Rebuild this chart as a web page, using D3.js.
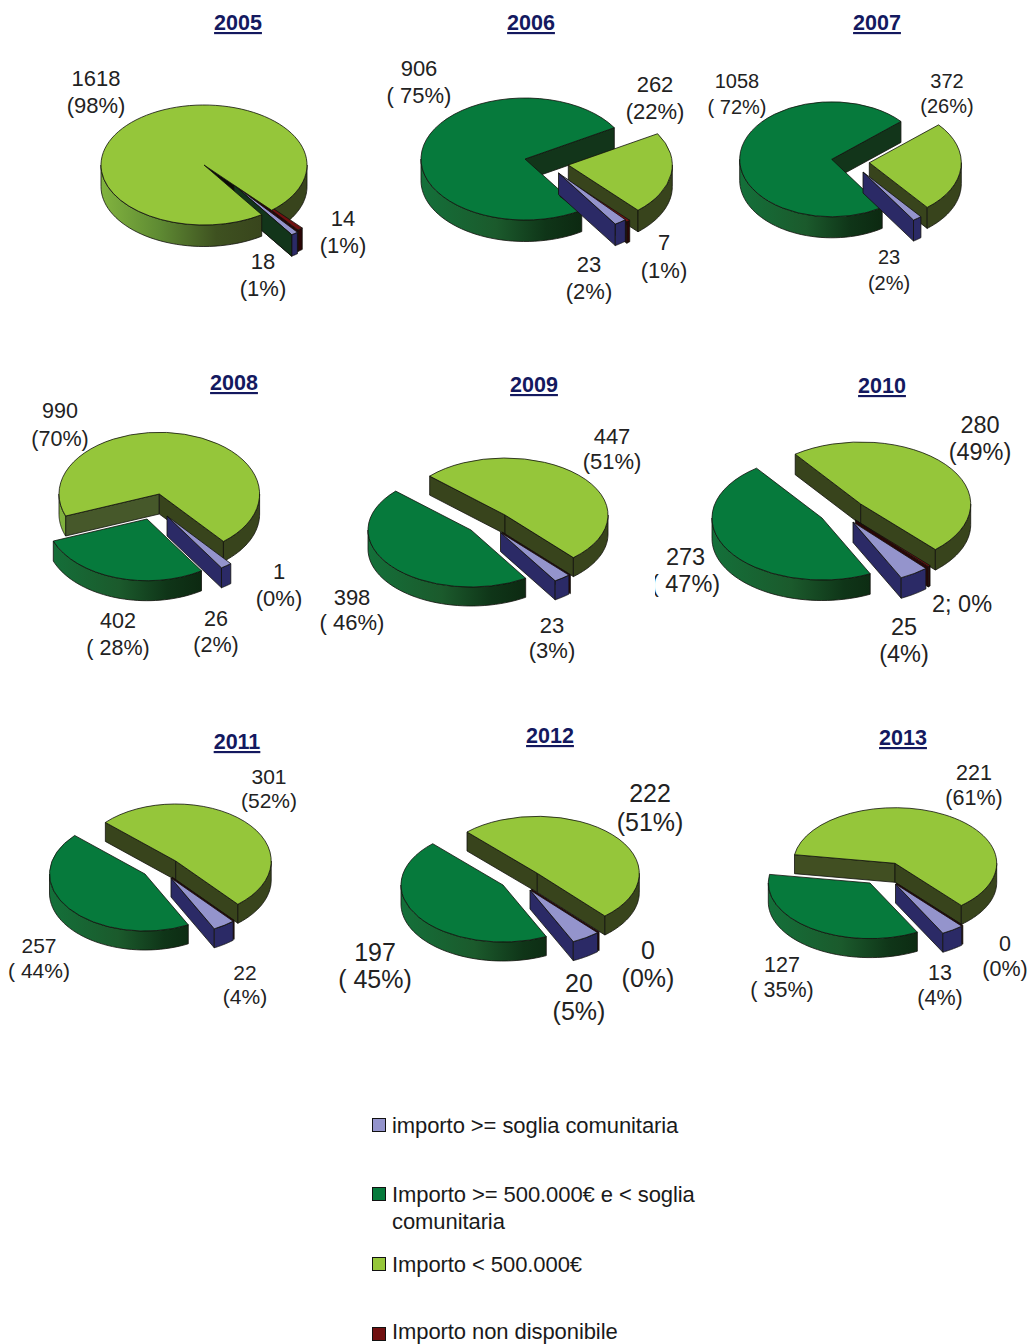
<!DOCTYPE html>
<html><head><meta charset="utf-8">
<style>html,body{margin:0;padding:0;background:#fff}svg{display:block}text{font-family:"Liberation Sans",Arial,sans-serif}</style>
<script src="https://d3js.org/d3.v7.min.js"></script>
</head><body><svg id="c" width="1032" height="1344"></svg>
<script>
// ---- data ----
const years      = [2005, 2006, 2007, 2008, 2009, 2010, 2011, 2012, 2013];
const sogliaComunitaria = [18, 23, 23, 26, 23, 25, 22, 20, 13];      // importo >= soglia comunitaria
const sopra500k  = [0, 906, 1058, 402, 398, 273, 257, 197, 127];     // >= 500.000 e < soglia
const sotto500k  = [1618, 262, 372, 990, 447, 280, 301, 222, 221];   // < 500.000
const nonDisp    = [14, 7, 0, 1, 0, 2, 0, 0, 0];                     // non disponibile
const seriesKeys = ["lav", "green", "lime", "maroon"];
const legendLabels = [["importo >= soglia comunitaria"], ["Importo >= 500.000€ e < soglia", "comunitaria"], ["Importo < 500.000€"], ["Importo non disponibile"]];
const valueLabels = [
  [["1618","(98%)"],["14","(1%)"],["18","(1%)"]],
  [["906","( 75%)"],["262","(22%)"],["23","(2%)"],["7","(1%)"]],
  [["1058","( 72%)"],["372","(26%)"],["23","(2%)"]],
  [["990","(70%)"],["402","( 28%)"],["26","(2%)"],["1","(0%)"]],
  [["447","(51%)"],["398","( 46%)"],["23","(3%)"]],
  [["280","(49%)"],["273","( 47%)"],["25","(4%)"],["2; 0%"]],
  [["301","(52%)"],["257","( 44%)"],["22","(4%)"]],
  [["222","(51%)"],["197","( 45%)"],["20","(5%)"],["0","(0%)"]],
  [["221","(61%)"],["127","( 35%)"],["13","(4%)"],["0","(0%)"]]
];
// ---- layout ----
const colors = {
  top:{lav:"#9494cc",green:"#067a3c",lime:"#95c63a",maroon:"#701010"},
  wall:{lav:"#2b2a66",green:"#12351a",lime:"#38441c",maroon:"#2a0606"}
};
const ramps = {
  lime:[[0,"#82b43f"],[.35,"#5f8b33"],[.7,"#3e5120"],[1,"#38441c"]],
  green:[[0,"#14703a"],[.45,"#1b5a2c"],[.75,"#0f3518"],[1,"#0c2710"]],
  lav:[[0,"#2b2a66"],[1,"#2b2a66"]],
  maroon:[[0,"#2a0606"],[1,"#2a0606"]]
};
const rx = [103,104,92,100.3,103,110,95.5,102,101.7];
const ry = [60,61,57.5,61.7,57,62,57,57,55.6];
const depth = [21.5,21.5,21,20,19,20.5,19,19,19];
const startDeg = [142,140,141,140.5,138.4,138.5,139.4,138.5,139.3];
const origins = [ // origin of each slice [lav, green, lime, maroon]
  {lav:[234,185],green:[234,185],lime:[204,165],maroon:[234.6,182.7]},
  {lav:[558.5,173],green:[525,159],lime:[568.3,165],maroon:[560,175]},
  {lav:[863,172],green:[831.7,159.3],lime:[869.3,162.7],maroon:null},
  {lav:[167,516],green:[147,519],lime:[159.3,494],maroon:null},
  {lav:[500.5,532.5],green:[471,530],lime:[505,515],maroon:[502,532]},
  {lav:[853,522],green:[822,518],lime:[860.7,504],maroon:[855.4,520]},
  {lav:[171,878],green:[145,874],lime:[175.7,861],maroon:[172,877]},
  {lav:[530,890],green:[503,885],lime:[537.3,873.3],maroon:[531.5,889]},
  {lav:[895.5,884],green:[870,883],lime:[895,863.3],maroon:[896.5,883]}
];
const titlePos = [[238,30],[531,30],[877,30],[234,390],[534,392],[882,393],[237,749],[550,743],[903,745]];
const labelPos = [ // [centre x, first baseline, second baseline, font size]
  [[96,86,113,22],[343,226,253,22],[263,269,296,22]],
  [[419,76,103,22],[655,92,119,22],[589,272,299,22],[664,250,278,22]],
  [[737,88,114,20],[947,88,113,20],[889,264,290,20]],
  [[60,418,446,21.5],[118,628,655,21.5],[216,626,652,21.5],[279,579,606,22]],
  [[612,444,469,22],[352,605,630,22],[552,633,658,22]],
  [[980,433,460,23.5],[685.5,565,592,23.5],[904,635,662,23.5],[962,612,0,23.5]],
  [[269,784,808,21],[39,953,978,21],[245,980,1004,21]],
  [[650,802,831,25],[375,961,988,25],[579,992,1020,25],[648,959,987,25]],
  [[974,780,805,21.5],[782,972,997,21.5],[940,980,1005,21.5],[1005,951,976,21.5]]
];
const legendRows = [[1118,[1133]],[1187,[1202,1229]],[1257,[1272]],[1327,[1339]]];
const legendColors = ["#9494cc","#067a3c","#95c63a","#701010"];
const labelColor = "#222";
const edge = "#12120c";

const svg = d3.select("#c");
const defs = svg.append("defs");
const rad = d => d*Math.PI/180;
const pie = d3.pie().sort(null);
const line = d3.line();

years.forEach((yr,i)=>{
  const vals = [sogliaComunitaria[i],sopra500k[i],sotto500k[i],nonDisp[i]];
  const a0 = rad(startDeg[i]);
  const arcs = pie.startAngle(a0).endAngle(a0+2*Math.PI)(vals).map((a,k)=>({...a,key:seriesKeys[k],o:origins[i][seriesKeys[k]]}));
  const R=rx[i], S=ry[i], D=depth[i];
  const pt=(o,t,r=1,dy=0)=>[o[0]+R*r*Math.sin(t), o[1]-S*r*Math.cos(t)+dy];
  const arc=d3.arc().innerRadius(0).outerRadius(R);
  const g=svg.append("g").attr("class","pie");
  const drawn=arcs.filter(a=>a.o).map(a=>{
    const mid=(a.startAngle+a.endAngle)/2;
    return {...a,mid,order:a.o[1]-0.66*S*Math.cos(mid)};
  });
  const lavOrder=drawn.find(a=>a.key==="lav").order;
  drawn.forEach(a=>{
    if(a.key==="maroon") a.order=lavOrder-0.01;
    if(a.key==="green"&&a.endAngle===a.startAngle) a.order=lavOrder+0.01;
  });
  drawn.sort((p,q)=>p.order-q.order);
  drawn.forEach(a=>{
    const lg=defs.append("linearGradient").attr("id",`g${yr}${a.key}`).attr("gradientUnits","userSpaceOnUse")
      .attr("x1",a.o[0]-R).attr("x2",a.o[0]+0.6*R).attr("y1",0).attr("y2",0);
    ramps[a.key].forEach(s=>lg.append("stop").attr("offset",s[0]).attr("stop-color",s[1]));
  });

  const drawWalls=a=>{
    const wall=(t)=>{
      const sd=((t*180/Math.PI)%360+360)%360;
      const major=a.endAngle-a.startAngle>rad(300);
      const fill=major?"#0c0c06":(a.key==="lime"&&sd>235&&sd<265)?"#46582a":(a.key==="lime"&&sd>=265&&sd<290)?"#414f22":colors.wall[a.key];
      g.append("path").attr("d",line([a.o,pt(a.o,t),pt(a.o,t,1,D),[a.o[0],a.o[1]+D]])+"Z")
        .attr("fill",fill).attr("stroke",edge).attr("stroke-width",.8);
    };
    if(Math.sin(a.startAngle)<0) wall(a.startAngle);
    if(Math.sin(a.endAngle)>0) wall(a.endAngle);
  };
  const drawRim=(a,k)=>{
    const lo=Math.max(a.startAngle,rad(90+360*k)), hi=Math.min(a.endAngle,rad(270+360*k));
    if(hi<=lo) return;
    const ts=d3.range(0,41).map(j=>lo+(hi-lo)*j/40);
    const poly=[...ts.map(t=>pt(a.o,t)),...ts.slice().reverse().map(t=>pt(a.o,t,1,D))];
    g.append("path").attr("d",line(poly)+"Z").attr("fill",`url(#g${yr}${a.key})`).attr("stroke",edge).attr("stroke-width",.8);
  };
  const drawTop=a=>{
    if(a.endAngle>a.startAngle){
      g.append("path").attr("d",arc({startAngle:a.startAngle,endAngle:a.endAngle}))
        .attr("transform",`translate(${a.o[0]},${a.o[1]}) scale(1,${S/R})`)
        .attr("fill",colors.top[a.key]).attr("stroke",edge).attr("stroke-width",.8).attr("vector-effect","non-scaling-stroke");
    }
  };
  // a slice that wraps nearly the whole disc: its gap wall and right rim go behind the thin
  // exploded slices, its left rim and top go in front of them
  const isMajor=a=>a.endAngle-a.startAngle>rad(300);
  drawn.filter(isMajor).forEach(a=>{drawWalls(a);drawRim(a,1);});
  drawn.filter(a=>!isMajor(a)).forEach(a=>{drawWalls(a);drawRim(a,0);drawRim(a,1);drawTop(a);});
  drawn.filter(isMajor).forEach(a=>{drawRim(a,0);drawTop(a);});

  // title
  svg.append("text").attr("x",titlePos[i][0]).attr("y",titlePos[i][1]).attr("text-anchor","middle")
    .attr("font-size",21.5).attr("font-weight","bold").attr("fill","#14195f").attr("text-decoration","underline").text(yr);
  // value labels
  valueLabels[i].forEach((lines,k)=>{
    const p=labelPos[i][k];
    lines.forEach((s,j)=>svg.append("text").attr("x",p[0]).attr("y",p[1+j]).attr("text-anchor","middle")
      .attr("font-size",p[3]).attr("fill",labelColor).text(s));
  });
});
// the reference cuts off the bracket of the 2010 "47%" label
svg.append("rect").attr("x",648).attr("y",572).attr("width",7).attr("height",28).attr("fill","#fff");
// legend
legendLabels.forEach((lines,i)=>{
  svg.append("rect").attr("x",372.5).attr("y",legendRows[i][0]+.5).attr("width",13).attr("height",13)
    .attr("fill",legendColors[i]).attr("stroke","#111").attr("stroke-width",1);
  lines.forEach((s,j)=>svg.append("text").attr("x",392).attr("y",legendRows[i][1][j]).attr("font-size",22).attr("letter-spacing",-.08)
    .attr("fill","#1a1a1a").text(s));
});
</script></body></html>
